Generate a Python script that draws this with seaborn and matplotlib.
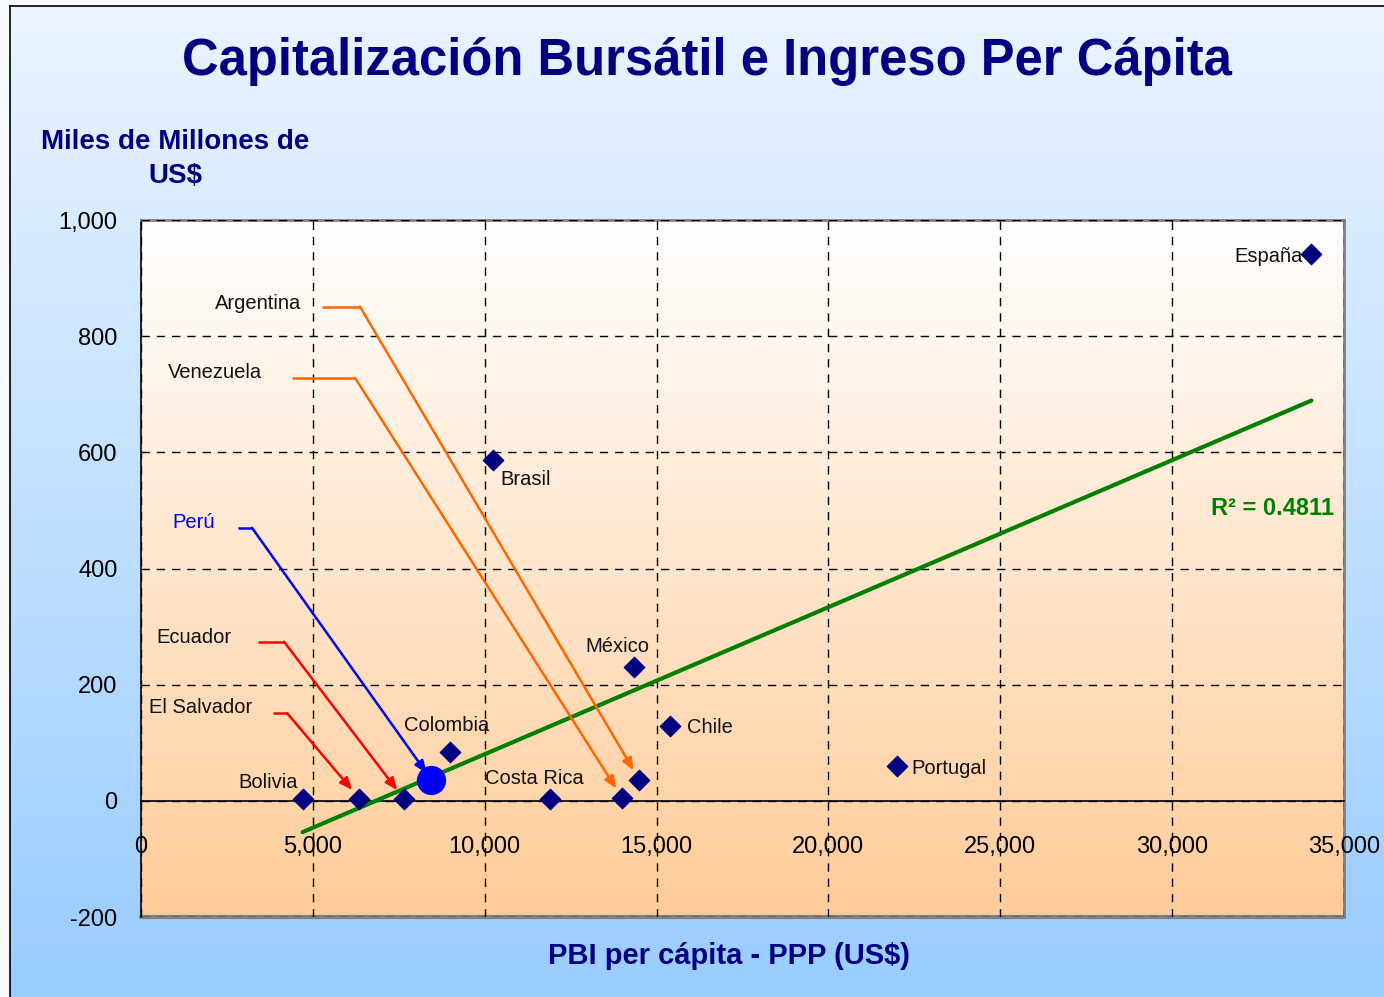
import numpy as np
import matplotlib
matplotlib.use("Agg")
import matplotlib.pyplot as plt
import pandas as pd
import seaborn as sns
from matplotlib import font_manager
from matplotlib.colors import LinearSegmentedColormap
from matplotlib.ticker import FuncFormatter


COUNTRIES = ["Bolivia", "El Salvador", "Ecuador", "Perú", "Colombia", "Brasil",
             "Costa Rica", "Venezuela", "Argentina", "México", "Chile",
             "Portugal", "España"]
GDP_PC = [4700, 6350, 7650, 8450, 9000, 10250, 11900, 14000, 14500, 14350,
          15400, 22000, 34050]
MARKET_CAP = [3, 4, 3, 36, 84, 587, 3, 5, 36, 231, 129, 60, 941]
HIGHLIGHT = "Perú"
R2_TEXT = "R² = 0.4811"

X_TICKS = [0, 5000, 10000, 15000, 20000, 25000, 30000, 35000]
Y_TICKS = [-200, 0, 200, 400, 600, 800, 1000]

# labels placed next to their point: (dx, dy) in pixels, alignment
POINT_LABELS = {
    "Bolivia": (-5, 17, "right"),
    "Colombia": (-4, 27, "center"),
    "Costa Rica": (-16, 21, "center"),
    "México": (-17, 20, "center"),
    "Chile": (17, -2, "left"),
    "Portugal": (14, -3, "left"),
    "España": (-9, -2, "right"),
    "Brasil": (7, -20, "left"),
}

# callouts: label position, stub start, knee, colour
CALLOUTS = {
    "Argentina": ((2150, 857), (5270, 851), (6370, 851), "#FF6600"),
    "Venezuela": ((790, 737), (4390, 728), (6230, 728), "#FF6600"),
    "Perú": ((900, 479), (2820, 470), (3230, 470), "#0000FF"),
    "Ecuador": ((440, 281), (3400, 274), (4160, 274), "#FF0000"),
    "El Salvador": ((230, 160), (3840, 151), (4250, 151), "#FF0000"),
}

sns.set_theme(style="white")
names = {f.name for f in font_manager.fontManager.ttflist}
NARROW = "Liberation Sans Narrow" if "Liberation Sans Narrow" in names else "Liberation Sans"
LABEL_SIZE = 17 if NARROW == "Liberation Sans Narrow" else 14.5
TICK_SIZE = 20 if NARROW == "Liberation Sans Narrow" else 17
plt.rcParams["font.family"] = ["Liberation Sans", "DejaVu Sans"]

df = pd.DataFrame({"pais": COUNTRIES, "pbi": GDP_PC, "cap": MARKET_CAP})

W, H = 1384, 997
fig = plt.figure(figsize=(W / 100, H / 100), dpi=100, facecolor="#F6FAFB")

# figure background gradient
bg = fig.add_axes([10 / W, 0, 1 - 10 / W, 1 - 6 / H], zorder=-10)
bg_cmap = LinearSegmentedColormap.from_list("bg", ["#EAF4FF", "#99CCFF"])
bg.imshow(np.linspace(0, 1, 256).reshape(-1, 1), cmap=bg_cmap, aspect="auto",
          extent=[0, 1, 0, 1], origin="upper")
bg.set_xticks([])
bg.set_yticks([])
for side in ["right", "bottom"]:
    bg.spines[side].set_visible(False)
for side in ["left", "top"]:
    bg.spines[side].set_color("black")
    bg.spines[side].set_linewidth(1.2)

ax = fig.add_axes([141 / W, 1 - 917 / H, (1344 - 141) / W, (917 - 220) / H])
xmin, xmax = X_TICKS[0], X_TICKS[-1]
ymin, ymax = Y_TICKS[0], Y_TICKS[-1]
plot_cmap = LinearSegmentedColormap.from_list("plot", ["#FFFFFF", "#FFCC99"])
ax.imshow(np.linspace(0, 1, 256).reshape(-1, 1), cmap=plot_cmap, aspect="auto",
          extent=[xmin, xmax, ymin, ymax], origin="upper", zorder=0)

# trend line
sns.regplot(data=df, x="pbi", y="cap", ax=ax, scatter=False, ci=None,
            truncate=True, line_kws=dict(color="#008000", lw=3, zorder=3))

others = df[df["pais"] != HIGHLIGHT]
peru = df[df["pais"] == HIGHLIGHT]
sns.scatterplot(data=others, x="pbi", y="cap", ax=ax, marker="D", s=110,
                color="#000080", edgecolor="#000080", zorder=5, legend=False)
sns.scatterplot(data=peru, x="pbi", y="cap", ax=ax, marker="o", s=380,
                color="#0000FF", edgecolor="#0000FF", zorder=5, legend=False)

pos = dict(zip(df["pais"], zip(df["pbi"], df["cap"])))
for name, (dx, dy, ha) in POINT_LABELS.items():
    ax.annotate(name, pos[name], xytext=(dx, dy), textcoords="offset pixels",
                ha=ha, va="center", fontsize=LABEL_SIZE, family=NARROW,
                color="#111111", zorder=6)

for name, (txt, start, knee, col) in CALLOUTS.items():
    ax.text(txt[0], txt[1], name, ha="left", va="center", fontsize=LABEL_SIZE,
            family=NARROW, color="#0000FF" if col == "#0000FF" else "#111111",
            zorder=6)
    ax.plot([start[0], knee[0]], [start[1], knee[1]], color=col, lw=1.8,
            zorder=3, solid_capstyle="butt")
    ax.annotate("", xy=pos[name], xytext=knee,
                arrowprops=dict(arrowstyle="-|>,head_length=0.6,head_width=0.25",
                                color=col, lw=1.8, shrinkA=0,
                                shrinkB=6 if name == HIGHLIGHT else 8),
                zorder=3)

ax.text(34700, 504, R2_TEXT, ha="right", va="center", fontsize=17,
        fontweight="bold", color="#008000", zorder=6)

ax.set_xlim(xmin, xmax)
ax.set_ylim(ymin, ymax)
ax.set_xticks(X_TICKS)
ax.set_yticks(Y_TICKS)
fmt = FuncFormatter(lambda v, p: f"{int(v):,}")
ax.xaxis.set_major_formatter(fmt)
ax.yaxis.set_major_formatter(fmt)
ax.grid(True, color="black", lw=1, linestyle=(0, (6, 5)))
ax.set_axisbelow(False)
for gl in ax.get_xgridlines() + ax.get_ygridlines():
    gl.set_zorder(1)

ax.spines["bottom"].set_position(("data", 0))
for side in ["bottom", "left"]:
    ax.spines[side].set_color("black")
    ax.spines[side].set_linewidth(1.2)
for side in ["top", "right"]:
    ax.spines[side].set_color("#808080")
    ax.spines[side].set_linewidth(2)
ax.axhline(ymin, color="#808080", lw=3, clip_on=False, zorder=2)

ax.tick_params(axis="x", direction="out", length=5, width=1.2, pad=20,
               labelsize=TICK_SIZE, colors="black")
ax.tick_params(axis="y", direction="out", length=8, width=1.2, pad=9,
               labelsize=TICK_SIZE, colors="black")
for lab in ax.get_xticklabels() + ax.get_yticklabels():
    lab.set_family(NARROW)
ax.set_xlabel("")
ax.set_ylabel("")

fig.text(707 / W, 1 - 62 / H, "Capitalización Bursátil e Ingreso Per Cápita",
         ha="center", va="center", fontsize=36.5, fontweight="bold",
         color="#000080")
fig.text(175 / W, 1 - 159 / H, "Miles de Millones de\nUS$", ha="center",
         va="center", fontsize=20, fontweight="bold", color="#000080",
         multialignment="center", linespacing=1.42)
fig.text(729 / W, 1 - 956 / H, "PBI per cápita - PPP (US$)", ha="center",
         va="center", fontsize=21, fontweight="bold", color="#000080")

fig.savefig("out.png", dpi=100, facecolor=fig.get_facecolor())
